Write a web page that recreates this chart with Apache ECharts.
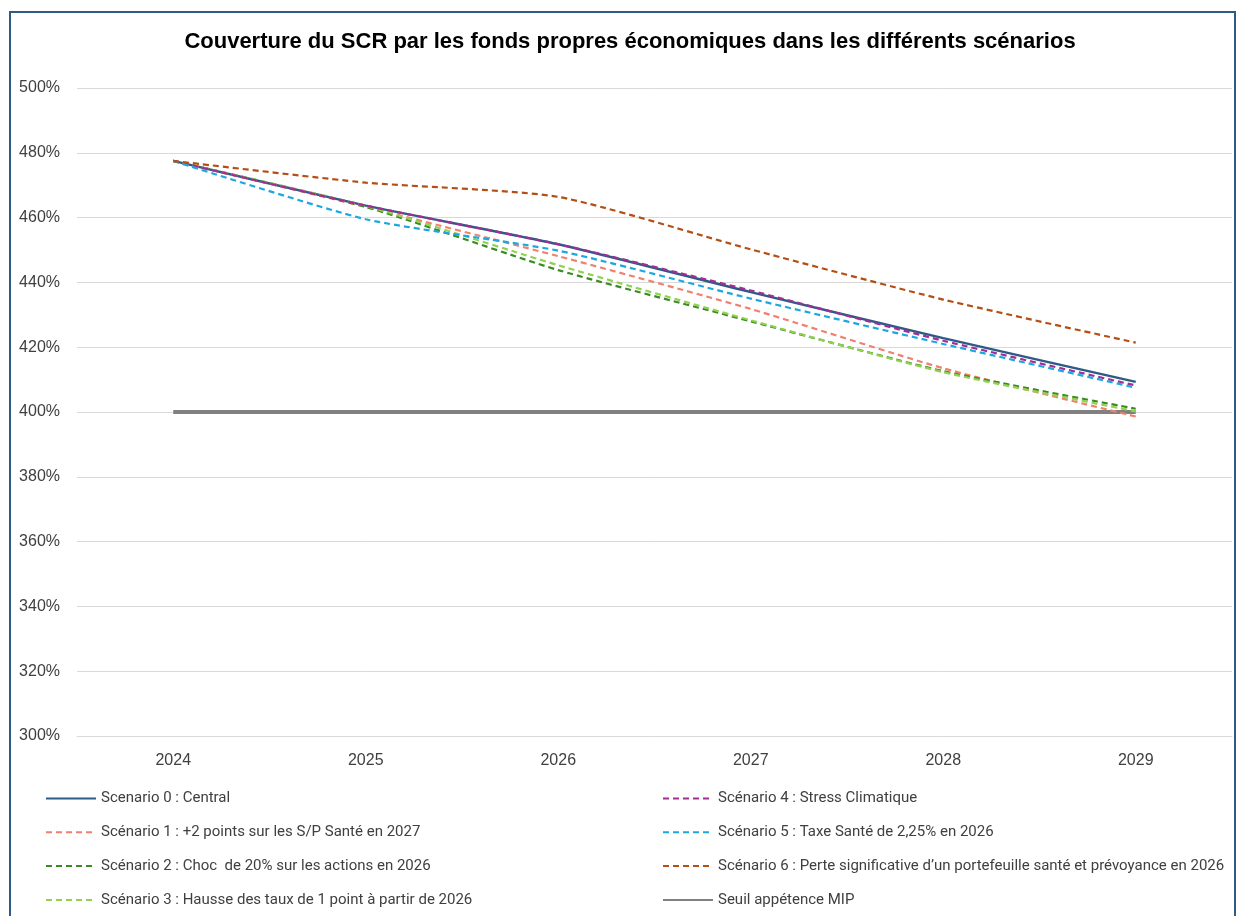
<!DOCTYPE html>
<html>
<head>
<meta charset="utf-8">
<script src="https://cdn.jsdelivr.net/npm/echarts@6/dist/echarts.min.js"></script>
<style>
  html, body { margin: 0; padding: 0; background: #ffffff; }
  #chart { width: 1238px; height: 916px; }
</style>
</head>
<body>
<div id="chart"></div>
<script>
// Years on the x axis
const years = ['2024', '2025', '2026', '2027', '2028', '2029'];

// SCR coverage ratio (%) per scenario
const scenario0 = [477.5, 463.7, 451.8, 437.0, 422.8, 409.3];
const scenario1 = [477.5, 463.3, 448.1, 431.8, 413.5, 398.6];
const scenario2 = [477.5, 463.3, 443.8, 428.0, 412.6, 401.0];
const scenario3 = [477.5, 463.6, 445.3, 428.3, 412.3, 400.2];
const scenario4 = [477.5, 463.7, 451.8, 437.5, 422.0, 408.2];
const scenario5 = [477.5, 459.5, 449.8, 435.0, 421.0, 407.5];
const scenario6 = [477.5, 470.8, 466.4, 450.2, 434.7, 421.4];
const seuilMIP  = [400, 400, 400, 400, 400, 400];

// Series names
const names = [
  'Scenario 0 : Central',
  'Scénario 1 : +2 points sur les S/P Santé en 2027',
  'Scénario 2 : Choc  de 20% sur les actions en 2026',
  'Scénario 3 : Hausse des taux de 1 point à partir de 2026',
  'Scénario 4 : Stress Climatique',
  'Scénario 5 : Taxe Santé de 2,25% en 2026',
  'Scénario 6 : Perte significative d\u2019un portefeuille santé et prévoyance en 2026',
  'Seuil appétence MIP'
];

const titleFont = '"Liberation Sans Narrow", "Liberation Sans", Arial, sans-serif';
const legendFont = 'Roboto, "Liberation Sans", sans-serif';
const axisFont = '"Liberation Sans", Arial, sans-serif';
const DASH = [6, 4];

function lineSeries(name, data, color, dashed, width) {
  return {
    name: name,
    type: 'line',
    data: data,
    smooth: 0.2,
    symbol: 'none',
    showSymbol: false,
    lineStyle: { color: color, width: width, type: dashed ? DASH : 'solid', cap: 'butt' },
    itemStyle: { color: color },
    emphasis: { disabled: true }
  };
}

function legendColumn(items, left) {
  return {
    data: items,
    orient: 'vertical',
    left: left,
    top: 791,
    height: 140,
    padding: 0,
    itemWidth: 50,
    itemHeight: 14,
    itemGap: 18.8,
    itemStyle: { opacity: 0 },
    textStyle: { fontFamily: legendFont, fontSize: 15, color: '#404040' },
    selectedMode: false
  };
}

const chart = echarts.init(document.getElementById('chart'), null, { renderer: 'canvas' });

chart.setOption({
  animation: false,
  backgroundColor: '#ffffff',
  title: {
    text: 'Couverture du SCR par les fonds propres économiques dans les différents scénarios',
    left: 630,
    top: 31,
    padding: 0,
    textAlign: 'center',
    textStyle: { fontFamily: titleFont, fontWeight: 'bold', fontSize: 22, color: '#000000' }
  },
  graphic: [{
    type: 'rect',
    silent: true,
    shape: { x: 10, y: 12, width: 1225, height: 940 },
    style: { fill: 'none', stroke: '#2E5B86', lineWidth: 2 }
  }],
  grid: { left: 77, right: 6, top: 88, bottom: 180, containLabel: false },
  xAxis: {
    type: 'category',
    data: years,
    boundaryGap: true,
    axisLine: { show: true, lineStyle: { color: '#D9D9D9', width: 1 } },
    axisTick: { show: false },
    axisLabel: { margin: 17, fontFamily: axisFont, fontSize: 16, color: '#404040' },
    splitLine: { show: false }
  },
  yAxis: {
    type: 'value',
    min: 300,
    max: 500,
    interval: 20,
    axisLine: { show: false },
    axisTick: { show: false },
    axisLabel: { margin: 17, fontFamily: axisFont, fontSize: 16, color: '#404040', formatter: '{value}%' },
    splitLine: { lineStyle: { color: '#D9D9D9', width: 1 } }
  },
  legend: [
    legendColumn(names.slice(0, 4), 45),
    legendColumn(names.slice(4, 8), 662)
  ],
  series: [
    lineSeries(names[7], seuilMIP, '#808080', false, 4),
    lineSeries(names[0], scenario0, '#2E5B86', false, 2.5),
    lineSeries(names[1], scenario1, '#F0806F', true, 2.2),
    lineSeries(names[2], scenario2, '#3A8B23', true, 2.2),
    lineSeries(names[3], scenario3, '#92D050', true, 2.2),
    lineSeries(names[4], scenario4, '#A22D96', true, 2.2),
    lineSeries(names[5], scenario5, '#1CA7E0', true, 2.2),
    lineSeries(names[6], scenario6, '#B44E14', true, 2.2)
  ]
});
</script>
</body>
</html>
